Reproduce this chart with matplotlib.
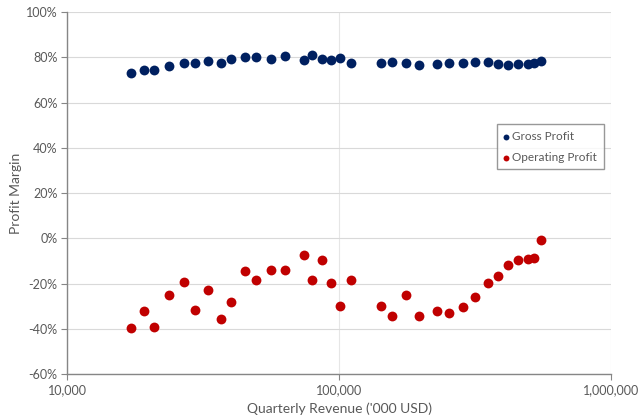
import matplotlib
matplotlib.use("Agg")
import matplotlib.pyplot as plt
from matplotlib.ticker import FixedLocator, FuncFormatter, NullLocator

revenue = [17180, 19080, 20890, 23650, 26960, 29600, 33050, 36690, 40050, 45110,
           49410, 56130, 63380, 74470, 79300, 86330, 93680, 101100, 110700,
           142100, 156500, 175600, 196100, 229400, 254000, 285100, 316800,
           353800, 385100, 416800, 452600, 492700, 519800, 550300]
gross_profit = [73.3, 74.5, 74.2, 76.4, 77.5, 77.5, 78.6, 77.5, 79.1, 80.3,
                80.3, 79.3, 80.8, 79.0, 80.9, 79.5, 78.8, 79.7, 77.4,
                77.4, 77.8, 77.5, 76.6, 77.0, 77.3, 77.4, 78.0,
                78.1, 77.0, 76.6, 77.1, 77.1, 77.4, 78.4]
operating_profit = [-39.4, -32.2, -39.2, -25.0, -19.3, -31.5, -23.0, -35.6, -28.3, -14.4,
                    -18.4, -14.0, -13.9, -7.2, -18.4, -9.4, -19.6, -30.0, -18.6,
                    -30.0, -34.2, -24.9, -34.4, -32.2, -33.0, -30.2, -26.1,
                    -19.6, -16.7, -11.7, -9.5, -9.3, -8.6, -0.7]
x_ticks = [10000, 100000, 1000000]
y_ticks = [-60, -40, -20, 0, 20, 40, 60, 80, 100]

plt.rcParams['font.family'] = ['Lato', 'DejaVu Sans']
txt = '#595959'

fig = plt.figure(figsize=(6.4, 4.18), dpi=100)
ax = fig.add_axes([0.105, 0.105, 0.85, 0.866])

ax.scatter(revenue, gross_profit, s=50, color='#002060', label='Gross Profit', zorder=3, linewidths=0)
ax.scatter(revenue, operating_profit, s=50, color='#C00000', label='Operating Profit', zorder=3, linewidths=0)

ax.set_xscale('log')
ax.set_xlim(10000, 1000000)
ax.set_ylim(-60, 100)
ax.xaxis.set_major_locator(FixedLocator(x_ticks))
ax.xaxis.set_minor_locator(NullLocator())
ax.xaxis.set_major_formatter(FuncFormatter(lambda v, p: f"{int(round(v)):,}"))
ax.yaxis.set_major_locator(FixedLocator(y_ticks))
ax.yaxis.set_major_formatter(FuncFormatter(lambda v, p: f"{int(v)}%"))

ax.grid(True, which='major', axis='y', color='#d9d9d9', linewidth=0.8, zorder=0)
ax.grid(True, which='major', axis='x', color='#e6e6e6', linewidth=0.8, zorder=0)
ax.set_axisbelow(True)
for s in ['top', 'right']:
    ax.spines[s].set_visible(False)
for s in ['left', 'bottom']:
    ax.spines[s].set_color('#868686')
    ax.spines[s].set_linewidth(1.0)
ax.tick_params(axis='both', colors='#868686', labelcolor=txt, labelsize=9, length=4)
ax.tick_params(axis='x', pad=3)
ax.tick_params(axis='y', pad=3)

ax.set_xlabel("Quarterly Revenue ('000 USD)", color=txt, fontsize=10, labelpad=5)
ax.set_ylabel("Profit Margin", color=txt, fontsize=10, labelpad=3)

leg = ax.legend(loc='upper left', bbox_to_anchor=(0.79, 0.69), fontsize=8.5, frameon=True,
                fancybox=False, edgecolor='#7f7f7f', handletextpad=0.25, markerscale=0.6,
                borderpad=0.55, labelspacing=0.85, handlelength=0.5, borderaxespad=0)
leg.get_frame().set_linewidth(1.0)
for t in leg.get_texts():
    t.set_color(txt)

fig.savefig('out.png', dpi=100)
